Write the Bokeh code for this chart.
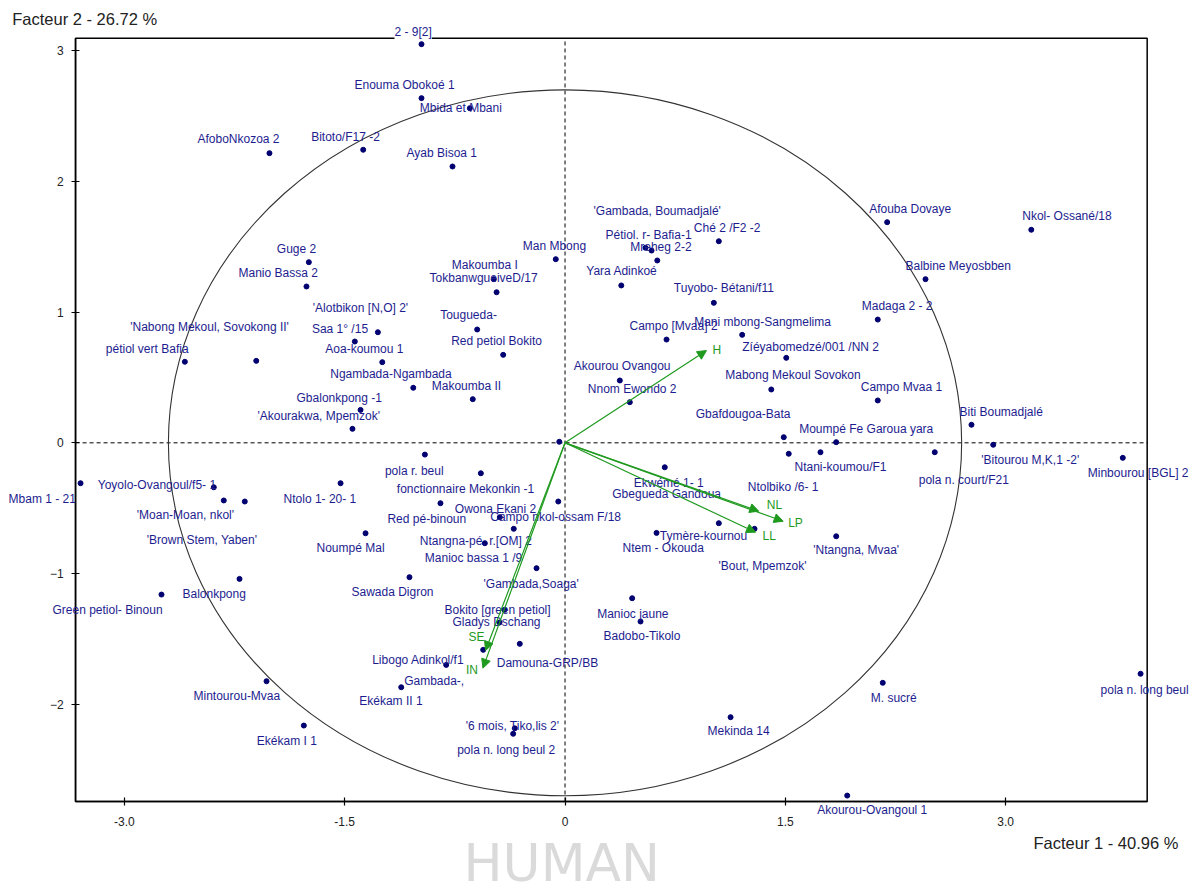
from bokeh.plotting import figure
from bokeh.models import (ColumnDataSource, Range1d, LabelSet, Label,
                          Arrow, NormalHead, FixedTicker, LinearAxis)
from bokeh.core.properties import value
from bokeh.embed import file_html
from bokeh.resources import INLINE

# ---------------- data ----------------
names = [
    "2 - 9[2]", "Enouma Obokoé 1", "Mbida et Mbani", "AfoboNkozoa 2", "Bitoto/F17 -2",
    "Ayab Bisoa 1", "'Gambada, Boumadjalé'", "Pétiol. r- Bafia-1", "Ché 2 /F2 -2", "Mreheg 2-2",
    "Afouba Dovaye", "Nkol- Ossané/18", "Guge 2", "Manio Bassa  2", "Man Mbong",
    "Makoumba I", "TokbanwgueiveD/17", "Yara Adinkoé", "Balbine Meyosbben", "Tuyobo- Bétani/f11",
    "'Alotbikon [N,O] 2'", "Tougueda-", "Madaga 2 - 2", "'Nabong Mekoul, Sovokong II'", "Saa 1° /15",
    "Campo [Mvaa] 2", "Mani mbong-Sangmelima", "pétiol vert Bafia", "Aoa-koumou 1", "Red petiol Bokito",
    "Zíéyabomedzé/001 /NN 2", "Ngambada-Ngambada", "Akourou Ovangou", "Nnom Ewondo 2", "Mabong Mekoul Sovokon",
    "Makoumba II", "Campo Mvaa 1", "Gbalonkpong -1", "'Akourakwa, Mpemzok'", "Gbafdougoa-Bata",
    "Biti Boumadjalé", "Moumpé Fe Garoua yara", "pola r. beul", "Ntani-koumou/F1", "'Bitourou M,K,1 -2'",
    "fonctionnaire Mekonkin -1", "pola n. court/F21", "Minbourou [BGL] 2", "Mbam 1 - 21", "Yoyolo-Ovangoul/f5- 1",
    "Ntolo 1- 20- 1", "Ekwémé 1- 1", "Ntolbiko /6- 1", "'Moan-Moan, nkol'", "Gbegueda Gandoua",
    "Owona Ekani 2", "Red pé-binoun", "Campo nkol-ossam F/18", "'Brown Stem, Yaben'", "Noumpé Mal",
    "Ntangna-pé. r.[OM] 2", "Tymère-kournou", "Ntem - Okouda", "'Ntangna, Mvaa'", "Manioc bassa 1 /9",
    "'Bout, Mpemzok'", "'Gambada,Soaga'", "Sawada Digron", "Balonkpong", "Green petiol- Binoun",
    "Manioc jaune", "Bokito [green petiol]", "Gladys Dschang", "Badobo-Tikolo", "Libogo Adinkol/f1",
    "Damouna-GRP/BB", "Gambada-,", "Mintourou-Mvaa", "M. sucré", "pola n. long beul",
    "Ekékam II 1", "Ekékam I 1", "Mekinda 14", "'6 mois, Tiko,lis 2'", "pola n. long beul 2",
    "Akourou-Ovangoul 1",
]
facteur1 = [
    -0.977, -0.977, -0.648, -2.012, -1.374,
    -0.766, 0.589, 0.548, 1.047, 0.628,
    2.193, 3.174, -1.744, -1.760, -0.063,
    -0.485, -0.466, 0.383, 2.454, 1.013,
    -1.431, -0.598, 2.129, -2.102, -1.274,
    0.691, 1.206, -2.588, -1.244, -0.421,
    1.506, -1.033, 0.373, 0.441, 1.404,
    -0.628, 2.129, -1.392, -1.447, 1.489,
    2.767, 1.846, -0.954, 1.739, 2.915,
    -0.573, 2.517, 3.797, -3.298, -2.391,
    -1.528, 0.679, 1.523, -2.323, -0.039,
    -0.444, -0.848, -0.046, -2.180, -1.358,
    -0.349, 1.047, 0.623, 1.846, -0.546,
    1.290, -0.194, -1.059, -2.216, -2.747,
    0.457, -0.412, -0.446, 0.514, -0.557,
    -0.308, -0.809, -2.032, 2.163, 3.918,
    -1.115, -1.778, 1.127, -0.342, -0.353,
    1.921,
]
facteur2 = [
    3.050, 2.637, 2.560, 2.216, 2.242,
    2.114, 1.471, 1.492, 1.542, 1.395,
    1.688, 1.630, 1.382, 1.196, 1.405,
    1.252, 1.152, 1.204, 1.252, 1.071,
    0.775, 0.867, 0.943, 0.627, 0.846,
    0.790, 0.826, 0.620, 0.617, 0.673,
    0.650, 0.421, 0.477, 0.311, 0.408,
    0.334, 0.324, 0.252, 0.107, 0.043,
    0.138, 0.005, -0.090, -0.072, -0.015,
    -0.233, -0.072, -0.115, -0.309, -0.340,
    -0.309, -0.187, -0.084, -0.441, 0.008,
    -0.569, -0.462, -0.449, -0.449, -0.692,
    -0.658, -0.615, -0.689, -0.715, -0.768,
    -0.658, -0.959, -1.028, -1.041, -1.161,
    -1.189, -1.278, -1.375, -1.367, -1.584,
    -1.538, -1.699, -1.824, -1.836, -1.767,
    -1.870, -2.163, -2.099, -2.184, -2.226,
    -2.699,
]

# variables (correlation arrows)
var_names = ["H", "NL", "LP", "LL", "SE", "IN"]
var_f1 = [0.963, 1.319, 1.485, 1.297, -0.541, -0.559]
var_f2 = [0.706, -0.523, -0.600, -0.684, -1.589, -1.724]

x_ticks = [-3.0, -1.5, 0.0, 1.5, 3.0]
x_tick_labels = ["-3.0", "-1.5", "0", "1.5", "3.0"]
y_ticks = [-2, -1, 0, 1, 2, 3]
x_title = "Facteur 1  -  40.96 %"
y_title = "Facteur 2  -  26.72 %"
circle_radius = 2.7

# plotting box (axis limits) and full canvas extent, in data units
box_left, box_right, box_bottom, box_top = -3.332, 3.963, -2.744, 3.096
view_x = (-3.843, 4.326)
view_y = (-3.448, 3.384)

# ---------------- layout (label placement in screen pixels) ----------------
lab_dx = [
    -27, -67, -50, -72, -52,
    -46, -58, -40, -25, -27,
    -18, -9, -32, -68, -33,
    -42, -67, -35, -20, -40,
    -42, -37, -16, -126, -66,
    -37, -48, -79, -57, -52,
    -44, -83, -46, -42, -46,
    -41, -17, -64, -95, -88,
    -12, -37, -40, -26, -12,
    -84, -16, -35, -72, -116,
    -57, -31, -41, -87, 53,
    -45, -53, -68, -98, -49,
    -94, -59, -34, -23, -60,
    -36, -53, -58, -57, -109,
    -35, -60, -47, -37, -111,
    -23, -42, -73, -12, -40,
    -42, -47, -23, -49, -56,
    -30,
]
lab_dy = [
    12, 13, 0, 14, 13,
    13, 40, 13, 13, 13,
    13, 14, 13, 13, 13,
    14, 14, 14, 13, 15,
    34, 14, 14, 34, 3,
    14, 13, 13, 13, 14,
    11, 14, 14, 13, 14,
    13, 13, 12, 13, 23,
    13, 13, -16, -15, -15,
    -16, -28, -15, -16, 2,
    -16, -16, -33, -15, -52,
    8, -16, -15, -38, -15,
    -12, -13, -15, -14, -15,
    -37, -16, -15, -15, -15,
    -16, 0, 1, -15, -10,
    -19, -16, -15, -15, -16,
    -14, -15, -14, 2, -16,
    -14,
]
var_dx = [6, 8, 5, 7, -17, -17]
var_dy = [1, 6, -2, -4, 14, -2]

NAVY_PT = "#000070"
NAVY_TX = "#1d1d8f"
GREEN = "#1f9a1f"
FONT = "Liberation Sans"

p = figure(width=1200, height=893,
           x_range=Range1d(*view_x), y_range=Range1d(*view_y),
           output_backend="svg", toolbar_location=None,
           x_axis_location=None, y_axis_location=None,
           min_border=0)
p.grid.visible = False
p.background_fill_color = "white"
p.border_fill_color = "white"
p.outline_line_color = None

# box outline
p.quad(left=[box_left], right=[box_right], bottom=[box_bottom], top=[box_top],
       fill_color=None, line_color="black", line_width=1.5)

xaxis = LinearAxis(fixed_location=box_bottom, ticker=FixedTicker(ticks=x_ticks),
                   bounds=(box_left, box_right))
yaxis = LinearAxis(fixed_location=box_left, ticker=FixedTicker(ticks=y_ticks),
                   bounds=(box_bottom, box_top))
xaxis.major_label_overrides = {t: s for t, s in zip(x_ticks, x_tick_labels)}
xaxis.major_label_standoff = 12
yaxis.major_label_standoff = 8
for ax in (xaxis, yaxis):
    ax.axis_line_color = "black"
    ax.axis_line_width = 1.5
    ax.major_tick_line_color = "black"
    ax.major_tick_line_width = 1.2
    ax.major_tick_in = 4
    ax.major_tick_out = 4
    ax.minor_tick_line_color = None
    ax.major_label_text_font = FONT
    ax.major_label_text_font_size = "12px"
    ax.major_label_text_color = "#222222"
p.add_layout(xaxis, "below")
p.add_layout(yaxis, "left")

# zero lines inside the box
p.segment(x0=[0, box_left], y0=[box_bottom, 0], x1=[0, box_right], y1=[box_top, 0],
          line_color="black", line_width=1, line_dash="4 3")

# correlation circle
p.ellipse(x=0, y=0, width=2 * circle_radius, height=2 * circle_radius,
          fill_color=None, line_color="#333333", line_width=1.1)

# individuals
src = ColumnDataSource(dict(x=facteur1, y=facteur2, name=names, dx=lab_dx, dy=lab_dy))
p.scatter(x="x", y="y", source=src, size=5, color=NAVY_PT, marker="circle")

rest = ColumnDataSource(dict(x=facteur1[1:], y=facteur2[1:], name=names[1:],
                             dx=lab_dx[1:], dy=lab_dy[1:]))
p.add_layout(LabelSet(x="x", y="y", text="name", source=rest,
                      x_offset="dx", y_offset="dy",
                      text_font=value(FONT), text_font_size="12px",
                      text_color=NAVY_TX, text_align="left",
                      text_baseline="middle"))
p.add_layout(Label(x=facteur1[0], y=facteur2[0], text=names[0],
                   x_offset=lab_dx[0], y_offset=lab_dy[0],
                   text_font=FONT, text_font_size="12px", text_color=NAVY_TX,
                   text_align="left", text_baseline="middle",
                   background_fill_color="white", background_fill_alpha=1.0))

# variable arrows
vsrc = ColumnDataSource(dict(x=var_f1, y=var_f2, name=var_names, dx=var_dx, dy=var_dy))
p.add_layout(Arrow(end=NormalHead(size=9, fill_color=GREEN, line_color=GREEN),
                   x_start=0, y_start=0, x_end="x", y_end="y", source=vsrc,
                   line_color=GREEN, line_width=1.2))
p.add_layout(LabelSet(x="x", y="y", text="name", source=vsrc,
                      x_offset="dx", y_offset="dy",
                      text_font=value(FONT), text_font_size="12px",
                      text_color=GREEN, text_align="left",
                      text_baseline="middle"))

# axis titles
p.add_layout(Label(x=-3.763, y=3.239, text=y_title, text_font=FONT,
                   text_font_size="16.5px", text_color="#222222",
                   text_align="left", text_baseline="middle"))
p.add_layout(Label(x=3.189, y=-3.061, text=x_title, text_font=FONT,
                   text_font_size="16.5px", text_color="#222222",
                   text_align="left", text_baseline="middle"))

# watermark
p.add_layout(Label(x=-0.691, y=-2.985, text="HUMAN", text_font="DejaVu Sans",
                   text_font_size="52px", text_color="#dadada",
                   text_align="left", text_baseline="top"))

open("out.html", "w").write(file_html(p, INLINE))
